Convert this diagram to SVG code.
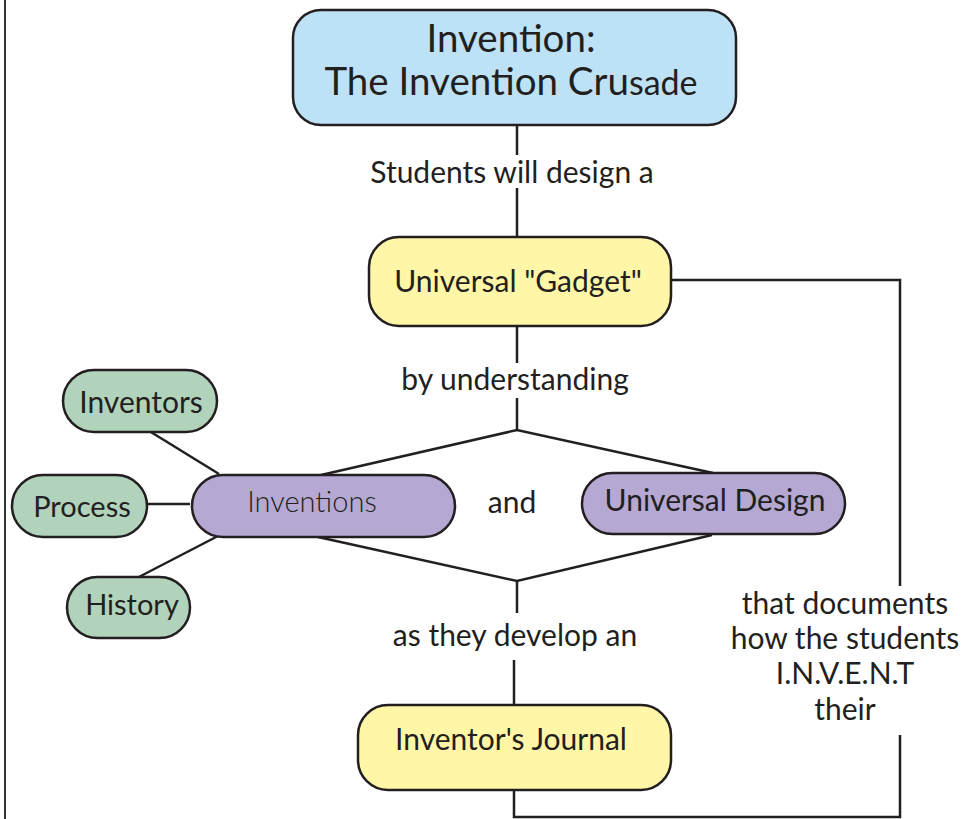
<svg xmlns="http://www.w3.org/2000/svg" width="969" height="819" viewBox="0 0 969 819">
  <style>
    .box { stroke: #231f20; stroke-width: 2.5; }
    .blue { fill: #bde2f6; }
    .yellow { fill: #fff6a8; }
    .purple { fill: #b5a9d4; }
    .green { fill: #b2d3bb; }
    .t { font-family: "Lato", "Noto Sans", "Liberation Sans", sans-serif; fill: #231f20; text-anchor: middle; }
    .lbl { font-size: 30px; }
    .node { font-size: 30px; }
    .sm { font-size: 29px; }
    .thin { font-weight: 300; font-size: 29px; }
    .title { font-size: 38.5px; }
    .wire { stroke: #231f20; stroke-width: 2.5; fill: none; }
  </style>

  <!-- page edge -->
  <line x1="5" y1="0" x2="5" y2="819" stroke="#333" stroke-width="2"/>

  <g id="connectors" class="wire">
    <line x1="517" y1="125" x2="517" y2="155"/>
    <line x1="517" y1="188" x2="517" y2="237"/>
    <line x1="517" y1="326" x2="517" y2="363"/>
    <line x1="517" y1="398" x2="517" y2="430"/>
    <polyline points="321,475 517,430 713,473"/>
    <polyline points="318,537 517,581 712,535"/>
    <line x1="517" y1="581" x2="517" y2="613"/>
    <line x1="514" y1="660" x2="514" y2="705"/>
    <polyline points="671,280 900,280 900,586"/>
    <polyline points="514,790 514,817 900,817 900,735"/>
    <line x1="146" y1="429" x2="219" y2="474"/>
    <line x1="148" y1="504" x2="190" y2="504"/>
    <line x1="135" y1="579" x2="218" y2="536"/>
  </g>

  <g id="title">
    <rect class="box blue" x="293" y="10" width="443" height="115" rx="28"/>
    <text class="t title" x="511" y="52">Invention:</text>
    <text class="t title" x="511" y="95">The Invention Cru<tspan font-size="34">sade</tspan></text>
  </g>

  <g id="gadget">
    <rect class="box yellow" x="369" y="237" width="302" height="89" rx="30"/>
    <text class="t node" x="518" y="292">Universal "Gadget"</text>
  </g>

  <g id="inventions">
    <rect class="box purple" x="192" y="475" width="263" height="62" rx="31"/>
    <text class="t thin" x="312" y="512">Inventions</text>
  </g>

  <g id="universal-design">
    <rect class="box purple" x="582" y="473" width="263" height="61" rx="30.5"/>
    <text class="t node" x="715" y="511">Universal Design</text>
  </g>

  <g id="inventors">
    <rect class="box green" x="63" y="370" width="154" height="62" rx="31"/>
    <text class="t node" x="141" y="413">Inventors</text>
  </g>

  <g id="process">
    <rect class="box green" x="12" y="475" width="135" height="62" rx="31"/>
    <text class="t sm" x="82" y="517">Process</text>
  </g>

  <g id="history">
    <rect class="box green" x="67" y="577" width="123" height="61" rx="30.5"/>
    <text class="t sm" x="132" y="615">History</text>
  </g>

  <g id="journal">
    <rect class="box yellow" x="358" y="705" width="313" height="85" rx="30"/>
    <text class="t node" x="511" y="750">Inventor's Journal</text>
  </g>

  <g id="labels">
    <text class="t lbl" x="512" y="183">Students will design a</text>
    <text class="t lbl" x="515" y="390">by understanding</text>
    <text class="t lbl" x="512" y="513">and</text>
    <text class="t lbl" x="515" y="646">as they develop an</text>
    <text class="t lbl" x="845" y="614">that documents</text>
    <text class="t lbl" x="845" y="649">how the students</text>
    <text class="t lbl" x="845" y="684">I.N.V.E.N.T</text>
    <text class="t lbl" x="845" y="720">their</text>
  </g>
</svg>
